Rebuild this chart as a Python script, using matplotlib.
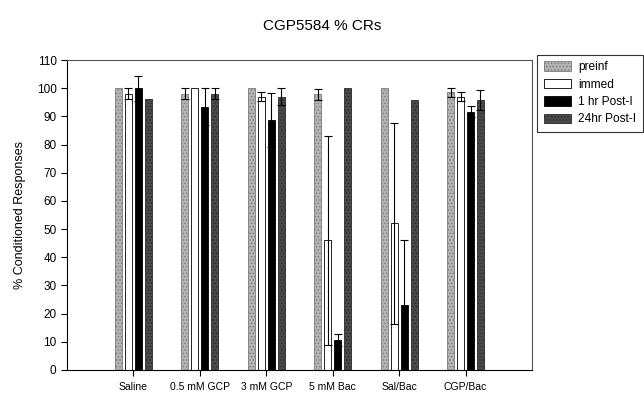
import matplotlib.pyplot as plt
import numpy as np

plt.rcParams['font.family'] = ['Liberation Sans', 'DejaVu Sans']
plt.rcParams['hatch.linewidth'] = 0.6

groups = ['Saline', '0.5 mM GCP', '3 mM GCP', '5 mM Bac', 'Sal/Bac', 'CGP/Bac']
series = ['preinf', 'immed', '1 hr Post-I', '24hr Post-I']

preinf = [100, 98, 100, 97.8, 100, 98.5]
preinf_err = [0, 2, 0, 2, 0, 1.5]
immed = [98, 100, 97, 46, 52, 97]
immed_err = [2, 0, 1.5, 37, 35.5, 1.5]
hr1 = [100, 93.4, 88.7, 10.6, 23, 91.6]
hr1_err = [4.5, 6.6, 9.5, 2, 23, 2]
hr24 = [96, 98, 97, 100, 95.7, 95.7]
hr24_err = [0, 2, 3, 0, 0, 3.5]

values = [preinf, immed, hr1, hr24]
errors = [preinf_err, immed_err, hr1_err, hr24_err]
faces = ['#b4b4b4', 'white', 'black', '#4a4a4a']
edges = ['#7a7a7a', 'black', 'black', '#2a2a2a']
hatches = ['.....', None, None, '.....']

fig = plt.figure(figsize=(6.44, 4.0), dpi=100)
ax = fig.add_axes([0.104, 0.075, 0.722, 0.775])

x = np.arange(len(groups))
width = 0.105
offsets = [-0.225, -0.075, 0.075, 0.225]
for i in range(4):
    ax.bar(x + offsets[i], values[i], width, color=faces[i], edgecolor=edges[i],
           hatch=hatches[i], linewidth=0.6, label=series[i], zorder=2)
    errs = np.array(errors[i])
    mask = errs > 0
    ax.errorbar((x + offsets[i])[mask], np.array(values[i])[mask], yerr=errs[mask],
                fmt='none', ecolor='black', elinewidth=0.8, capsize=3, capthick=0.8, zorder=3)

ax.set_xlim(-1, 6)
ax.set_ylim(0, 110)
ax.set_yticks(range(0, 111, 10))
ax.set_xticks(x)
ax.set_xticklabels(groups, fontsize=7.5)
ax.tick_params(axis='y', labelsize=8.5, length=4, width=0.8, direction='out')
ax.tick_params(axis='x', length=4, width=0.8, direction='out', pad=5)
for s in ax.spines.values():
    s.set_linewidth(0.8)
    s.set_color('#555555')
ax.spines['left'].set_color('black')
ax.spines['bottom'].set_color('black')

ax.set_ylabel('% Conditioned Responses', fontsize=9, labelpad=8)
fig.text(0.5, 0.935, 'CGP5584 % CRs', ha='center', va='center', fontsize=11)

leg = fig.legend(loc='upper left', bbox_to_anchor=(0.834, 0.863), fontsize=8.6,
                 frameon=True, fancybox=False, edgecolor='black', handlelength=2.3,
                 handleheight=0.85, labelspacing=0.45, borderpad=0.55, handletextpad=0.6,
                 borderaxespad=0)
leg.get_frame().set_linewidth(0.8)

fig.savefig('out.png', dpi=100)
